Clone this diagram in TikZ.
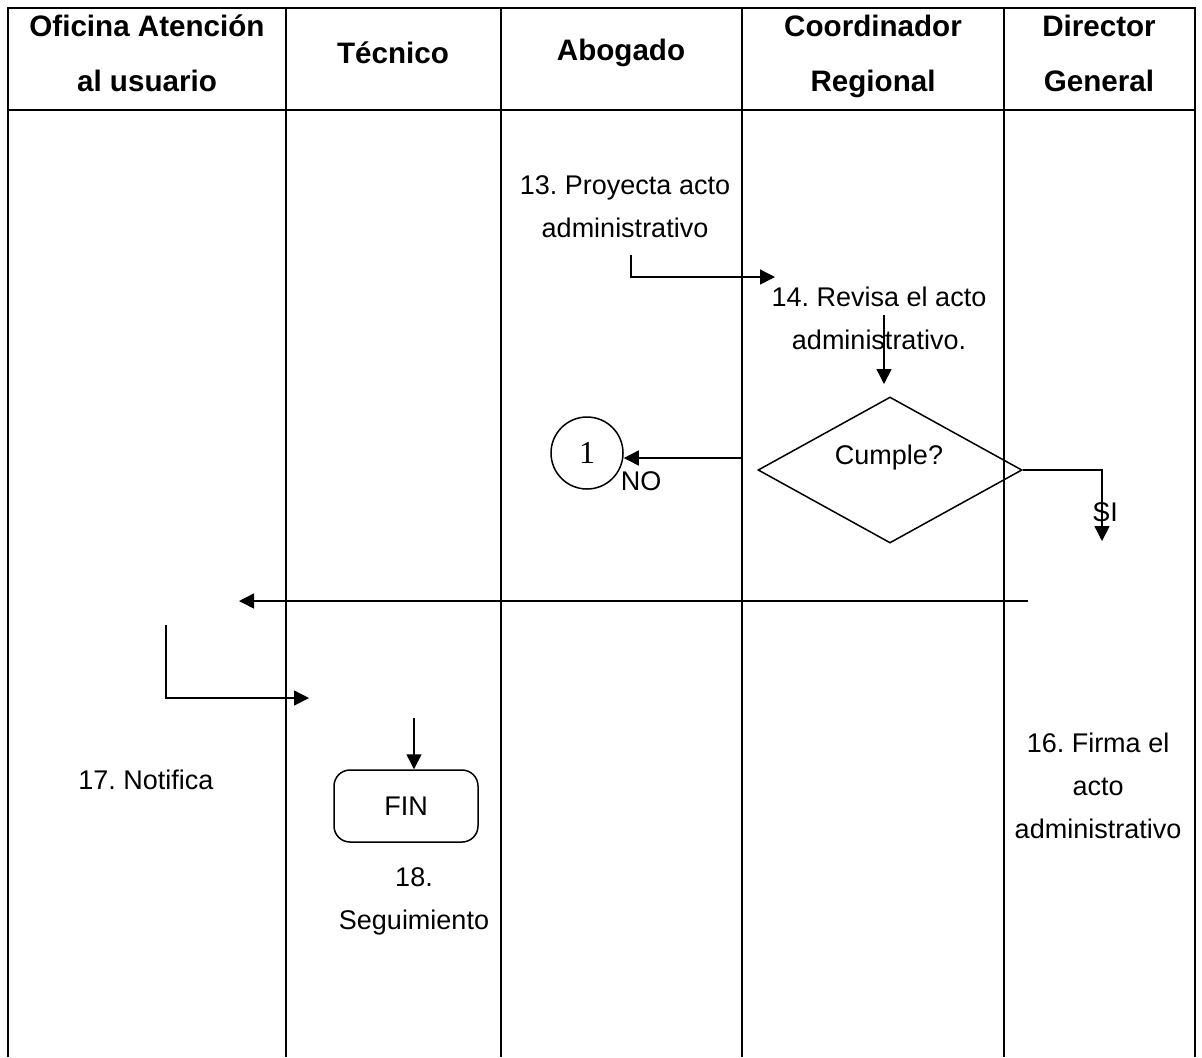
\documentclass[tikz,border=0pt]{standalone}
\usepackage{fontspec}
\setmainfont{Liberation Sans}
\newfontfamily\numfont{Liberation Serif}
\usetikzlibrary{arrows.meta,shapes.geometric}
\frenchspacing

\tikzset{
  grid/.style={line width=1pt},
  head/.style={font=\fontsize{14.8pt}{27.5pt}\selectfont\bfseries, align=center, inner sep=0pt},
  txt/.style={font=\fontsize{13.5pt}{21.5pt}\selectfont, align=center, inner sep=0pt},
  flow/.style={line width=0.75pt, -{Triangle[length=7.5pt,width=7.5pt]}},
}

\begin{document}
\begin{tikzpicture}[x=0.5pt,y=-0.5pt]
\useasboundingbox (0,0) rectangle (1202,1057);
\fill[white] (0,0) rectangle (1202,1057);

% swimlane grid
\draw[grid] (8,1057) -- (8,8) -- (1195,8) -- (1195,1057);
\draw[grid] (8,110) -- (1195,110);
\foreach \cx in {286,501,742,1004}
  \draw[grid] (\cx,8) -- (\cx,1057);

% lane headings
\node[head] (h1) at (147,53)  {Oficina Atención\\al usuario};
\node[head] (h2) at (393,53)  {Técnico};
\node[head] (h3) at (621,53)  {Abogado};
\node[head] (h4) at (873,56)  {Coordinador\\Regional};
\node[head] (h5) at (1099,53) {Director\\General};

% steps
\node[txt] (s13) at (625,207) {13. Proyecta acto\\administrativo};
\node[txt] (s14) at (879,318) {14. Revisa el acto\\administrativo.};
\node[draw, diamond, line width=0.75pt, minimum width=132pt, minimum height=73pt,
      aspect=1.81, inner sep=0pt] (dec) at (890,470) {};
\node[txt] (dectxt) at (889,458) {Cumple?};
\node[draw, circle, line width=0.75pt, minimum size=36pt, inner sep=0pt,
      font=\numfont\fontsize{16pt}{18pt}\selectfont] (c1) at (587,453) {1};
\node[txt] (no) at (641,481) {NO};
\node[txt] (si) at (1105,512) {SI};
\node[txt] (s16) at (1098,786) {16. Firma el\\acto\\administrativo};
\node[txt] (s17) at (146,780) {17. Notifica};
\node[draw, rounded corners=8pt, line width=0.75pt, minimum width=72pt,
      minimum height=36pt, inner sep=0pt, txt] (fin) at (406,806) {FIN};
\node[txt] (s18) at (414,901) {18.\\Seguimiento};

% connector end points
\coordinate (a13) at (631,255);
\coordinate (t14) at (775,277);
\coordinate (a14) at (884,315);
\coordinate (t14b) at (884,384);
\coordinate (ano) at (742,458);
\coordinate (tsi) at (1102,541);
\coordinate (a16) at (1028,601);
\coordinate (t17) at (239,601);
\coordinate (a17) at (166,625);
\coordinate (t18) at (309,698);
\coordinate (afin) at (414,718);

% connectors
\draw[flow] (a13) |- (t14);
\draw[flow] (a14) -- (t14b);
\draw[flow] (ano) -- (c1.east |- ano);
\draw[flow] (dec.east) -| (tsi);
\draw[flow] (a16) -- (t17);
\draw[flow] (a17) |- (t18);
\draw[flow] (afin) -- (fin.north -| afin);
\end{tikzpicture}
\end{document}
